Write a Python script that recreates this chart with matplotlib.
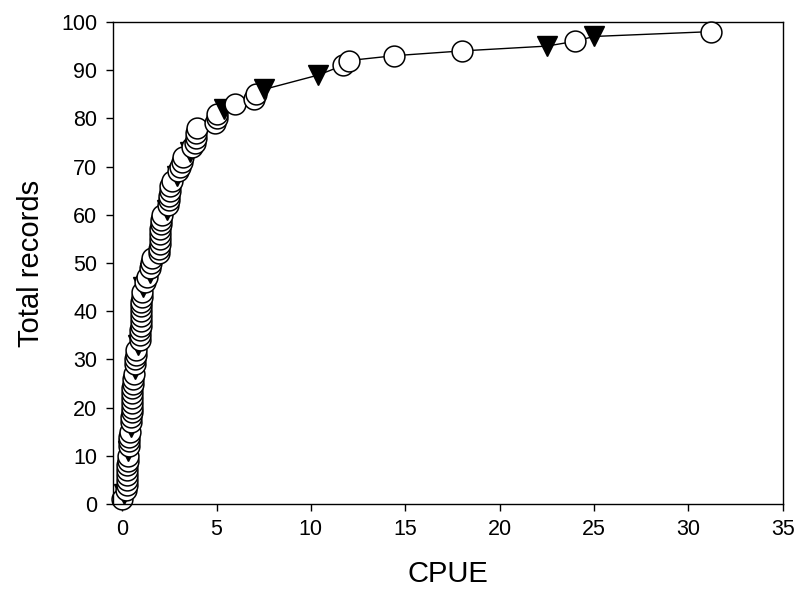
import matplotlib
matplotlib.use("Agg")
import matplotlib.pyplot as plt

plt.rcParams['font.family'] = ['Liberation Sans', 'DejaVu Sans']

# CPUE (x) and cumulative total records (y); marker kind per record
cpue = [0.00, 0.12, 0.22, 0.24, 0.25, 0.26, 0.27, 0.28, 0.29, 0.30,
        0.33, 0.35, 0.36, 0.38, 0.40, 0.45, 0.48, 0.49, 0.50, 0.50,
        0.51, 0.52, 0.53, 0.54, 0.55, 0.57, 0.64, 0.68, 0.68, 0.70,
        0.72, 0.74, 0.85, 0.95, 0.96, 0.97, 0.98, 0.99, 1.00, 1.00,
        1.01, 1.02, 1.03, 1.04, 1.10, 1.20, 1.30, 1.45, 1.50, 1.55,
        1.60, 1.95, 1.97, 1.98, 2.00, 2.00, 2.02, 2.05, 2.08, 2.10,
        2.40, 2.45, 2.48, 2.50, 2.52, 2.55, 2.65, 2.90, 2.95, 3.05,
        3.15, 3.25, 3.60, 3.70, 3.85, 3.90, 3.92, 3.95, 4.90, 5.00,
        5.02, 5.40, 6.00, 7.00, 7.10, 7.50, 10.4, 11.7, 12.0, 14.4,
        18.0, 22.5, 24.0, 25.0, 31.2]
records = [1, 2, 3, 4, 5, 6, 7, 8, 9, 10,
           11, 12, 13, 14, 15, 16, 17, 18, 19, 20,
           21, 22, 23, 24, 25, 26, 27, 28, 29, 30,
           31, 32, 33, 34, 35, 36, 37, 38, 39, 40,
           41, 42, 43, 44, 45, 46, 47, 48, 49, 50,
           51, 52, 53, 54, 55, 56, 57, 58, 59, 60,
           61, 62, 63, 64, 65, 66, 67, 68, 69, 70,
           71, 72, 73, 74, 75, 76, 77, 78, 79, 80,
           81, 82, 83, 84, 85, 86, 89, 91, 92, 93,
           94, 95, 96, 97, 98]
kind = ["o", "v", "o", "o", "o", "o", "o", "o", "o", "o",
        "v", "o", "o", "o", "o", "v", "o", "o", "o", "o",
        "o", "o", "o", "o", "o", "o", "o", "v", "o", "o",
        "o", "o", "v", "o", "o", "o", "o", "o", "o", "o",
        "o", "o", "o", "o", "v", "o", "o", "v", "o", "o",
        "o", "o", "o", "o", "o", "o", "o", "o", "o", "o",
        "v", "o", "o", "o", "o", "o", "o", "v", "o", "o",
        "o", "o", "v", "o", "o", "o", "o", "o", "o", "o",
        "o", "v", "o", "o", "o", "v", "v", "o", "o", "o",
        "o", "v", "o", "v", "o"]

x_ticks = [0, 5, 10, 15, 20, 25, 30, 35]
y_ticks = [0, 10, 20, 30, 40, 50, 60, 70, 80, 90, 100]

fig = plt.figure(figsize=(7.99, 5.96), dpi=100)
ax = fig.add_axes([112.7 / 799, 1 - 504 / 596, 670 / 799, 482 / 596])

ax.plot(cpue, records, color='black', lw=1.0, zorder=1)
for i, (xv, yv, k) in enumerate(zip(cpue, records, kind)):
    if k == "o":
        ax.plot([xv], [yv], marker='o', ms=15, mfc='white', mec='black',
                mew=1.1, ls='none', zorder=2 + i * 0.01, clip_on=False)
    else:
        ax.plot([xv], [yv], marker='v', ms=14.5, mfc='black', mec='black',
                mew=1.0, ls='none', zorder=2 + i * 0.01, clip_on=False)

ax.set_xlim(-0.5, 35)
ax.set_ylim(0, 100)
ax.set_xticks(x_ticks)
ax.set_yticks(y_ticks)
ax.tick_params(direction='out', length=5, width=1, labelsize=15.5, pad=6,
               top=False, right=False)
for s in ax.spines.values():
    s.set_linewidth(1.0)
ax.set_xlabel('CPUE', fontsize=21, labelpad=14)
ax.set_ylabel('Total records', fontsize=21, labelpad=12)

fig.savefig('out.png', dpi=100)
